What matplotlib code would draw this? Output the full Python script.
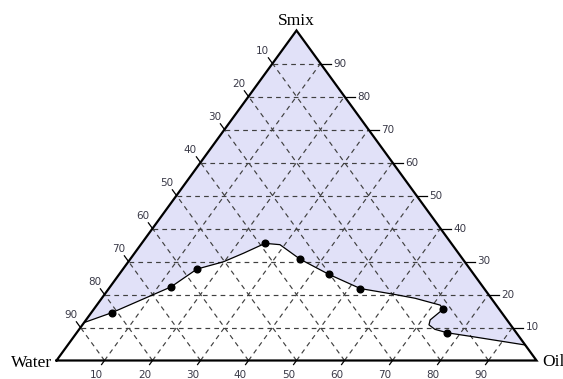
import matplotlib
matplotlib.use("Agg")
import matplotlib.pyplot as plt
import numpy as np

# Phase-boundary curve (Oil %, Smix %), Water = 100 - Oil - Smix
curve_oil = [0.0, 4.3, 12.7, 15.4, 19.8, 22.7, 25.7, 29.0, 35.4, 43.7, 52.4,
             60.1, 65.3, 71.5, 72.8, 71.7, 72.2, 74.1, 77.2, 83.2, 95.3]
curve_smix = [11.5, 14.5, 22.3, 27.7, 29.9, 32.5, 35.5, 35.1, 30.7, 26.1, 21.8,
              20.1, 18.85, 16.8, 15.6, 12.3, 10.8, 9.45, 8.4, 7.2, 4.7]

# Titration points (Oil %, Smix %)
point_oil = [4.3, 12.7, 15.4, 25.7, 35.4, 43.7, 52.4, 72.8, 77.2]
point_smix = [14.5, 22.3, 27.7, 35.5, 30.7, 26.1, 21.8, 15.6, 8.4]

tick_values = [10, 20, 30, 40, 50, 60, 70, 80, 90]
vertex_labels = ["Water", "Oil", "Smix"]

FILL = "#e1e1f8"
GRID = "#404040"
TICK_TXT = "#3a3a48"


def to_xy(oil, smix):
    oil = np.asarray(oil, dtype=float)
    smix = np.asarray(smix, dtype=float)
    return (oil + smix / 2.0) / 100.0, smix / 100.0


W, H = 563, 379
fig = plt.figure(figsize=(W / 100, H / 100), dpi=100)
ax = fig.add_axes([56.5 / W, 18.5 / H, 480 / W, 330 / H])
ax.set_xlim(0, 1)
ax.set_ylim(0, 1)
ax.axis("off")

# shaded single-phase region above the boundary
cx, cy = to_xy(curve_oil, curve_smix)
top_x, top_y = to_xy([0], [100])
ax.fill(np.r_[cx, top_x], np.r_[cy, top_y], color=FILL, lw=0, zorder=1)

# dashed grid
gkw = dict(color=GRID, lw=0.85, dashes=(4, 3.5), zorder=2)
for k in tick_values:
    x, y = to_xy([0, 100 - k], [k, k])          # constant Smix
    ax.plot(x, y, **gkw)
    x, y = to_xy([k, k], [0, 100 - k])          # constant Oil
    ax.plot(x, y, **gkw)
    x, y = to_xy([100 - k, 0], [0, 100 - k])    # constant Water
    ax.plot(x, y, **gkw)

# triangle outline
tx, ty = to_xy([0, 100, 0, 0], [0, 0, 100, 0])
ax.plot(tx, ty, color="black", lw=1.6, solid_joinstyle="miter", zorder=4,
        clip_on=False)

# boundary curve and points
ax.plot(cx, cy, color="black", lw=0.9, zorder=5, solid_joinstyle="round")
px, py = to_xy(point_oil, point_smix)
ax.plot(px, py, "o", color="black", ms=4.8, zorder=6)

# ticks and tick labels
tkw = dict(color="black", lw=0.9, clip_on=False, zorder=4)
lkw = dict(textcoords="offset pixels", fontsize=7.5, color=TICK_TXT,
           annotation_clip=False)
for k in tick_values:
    # left edge: Water %
    x0, y0 = to_xy(0, 100 - k)
    ax.plot([x0, x0 - 0.0086], [y0, y0 + 0.0172], **tkw)
    ax.annotate(str(k), (x0, y0), xytext=(-10, 12.5), ha="center",
                va="center", **lkw)
    # right edge: Smix %
    x0, y0 = to_xy(100 - k, k)
    ax.plot([x0, x0 + 0.021], [y0, y0], **tkw)
    ax.annotate(str(k), (x0, y0), xytext=(13, 0), ha="left",
                va="center", **lkw)
    # bottom edge: Oil %
    x0, y0 = to_xy(k, 0)
    ax.plot([x0, x0 - 0.0061], [y0, y0 - 0.0123], **tkw)
    ax.annotate(str(k), (x0, y0), xytext=(-8, -14.5), ha="center",
                va="center", **lkw)

# vertex labels
vkw = dict(textcoords="offset pixels", fontsize=12.5, family="Liberation Serif",
           color="black", annotation_clip=False, va="baseline")
ax.annotate(vertex_labels[0], to_xy(0, 0), xytext=(-4, -6.5), ha="right", **vkw)
ax.annotate(vertex_labels[1], to_xy(100, 0), xytext=(5.5, -5.5), ha="left", **vkw)
ax.annotate(vertex_labels[2], to_xy(0, 100), xytext=(0, 5.5), ha="center", **vkw)

fig.savefig("out.png", dpi=100, facecolor="white")
